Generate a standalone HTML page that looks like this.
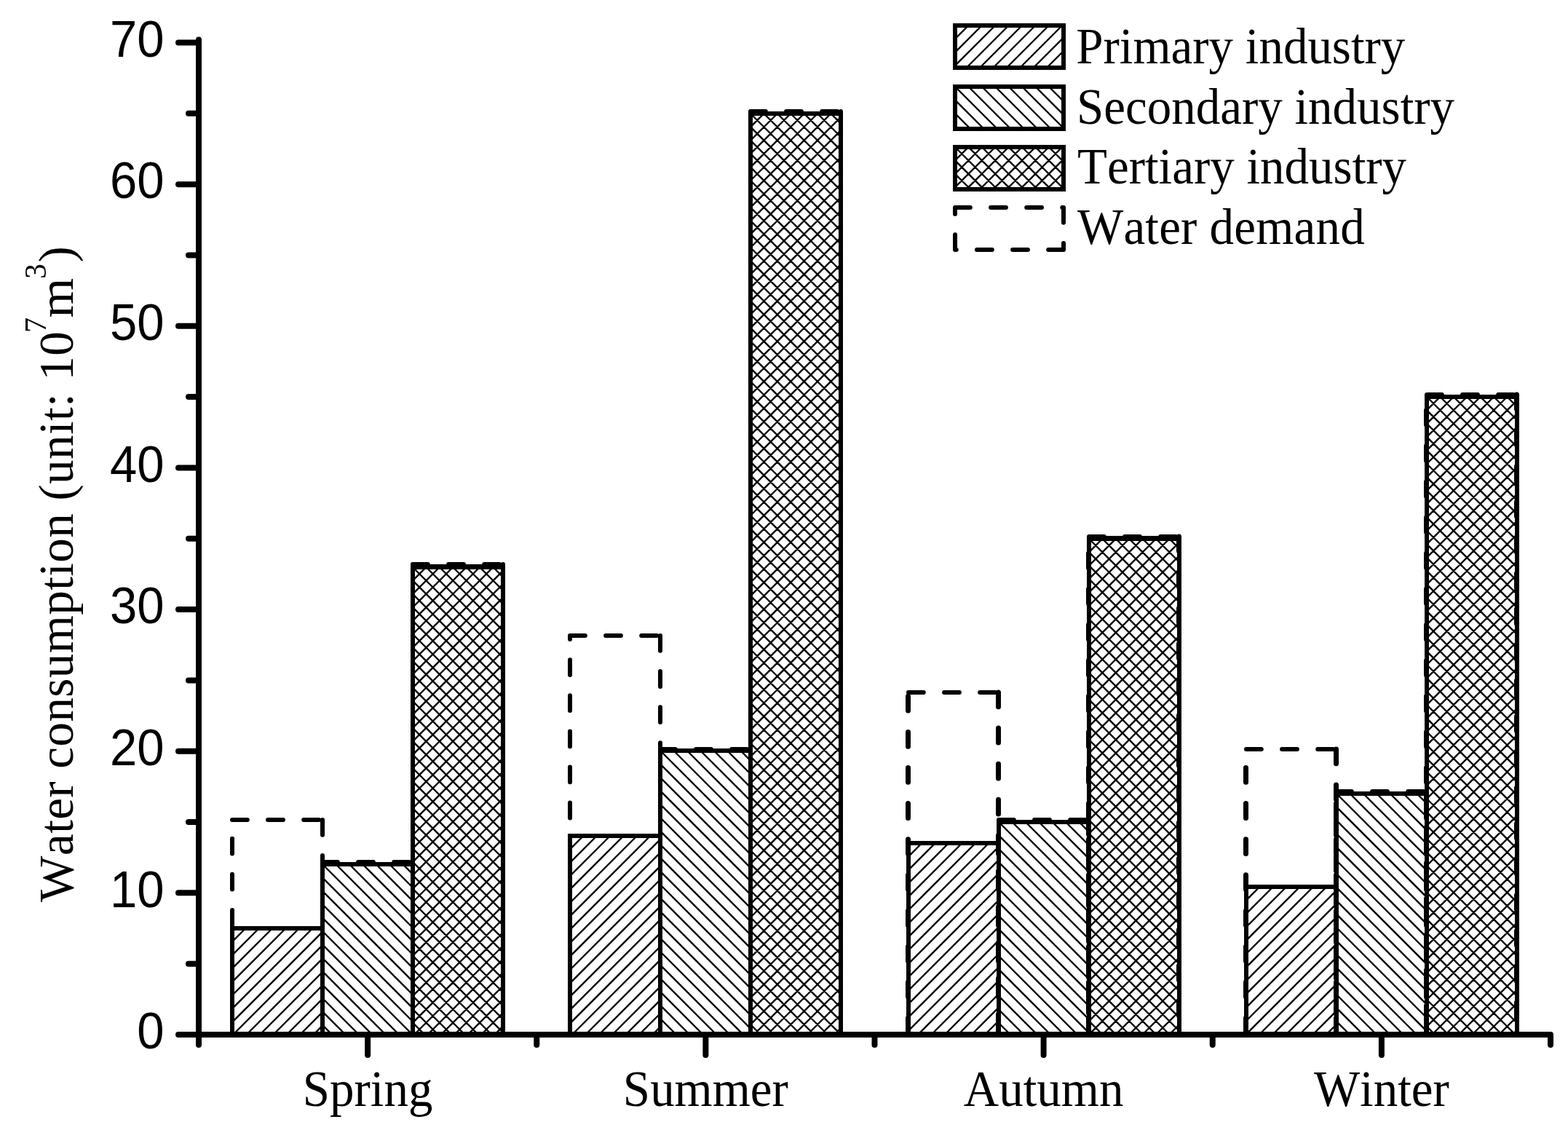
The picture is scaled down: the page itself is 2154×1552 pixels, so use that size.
<!DOCTYPE html>
<html lang="en"><head><meta charset="utf-8"><title>Water consumption by season</title>
<style>html,body{margin:0;padding:0;background:#fff}body{width:2154px;height:1552px;overflow:hidden}svg{display:block}text{fill:#000;font-kerning:none}.s{font-family:'Liberation Serif', serif;font-size:67px}.n{font-family:'Liberation Sans', sans-serif;font-size:67px}.h{stroke:#000;stroke-width:2.4;fill:none}.b{stroke:#000;stroke-width:6;fill:none}.d{stroke:#000;stroke-width:6;fill:none;stroke-linecap:round;stroke-dasharray:20.8 28.3}.w{stroke-width:7;stroke-dasharray:19.8 29.3}.a{stroke:#000;stroke-width:8;stroke-linecap:round;fill:none}</style></head><body>
<svg width="2154" height="1552" viewBox="0 0 2154 1552">
<rect width="2154" height="1552" fill="#fff"/>
<g id="bars">
<path class="h" d="M319 1293.4L337.4 1275M319 1311.8L355.8 1275M319 1330.2L374.2 1275M319 1348.6L392.6 1275M319 1367L411 1275M319 1385.4L429.4 1275M319 1403.8L443 1279.8M320.2 1421L443 1298.2M338.6 1421L443 1316.6M357 1421L443 1335M375.4 1421L443 1353.4M393.8 1421L443 1371.8M412.2 1421L443 1390.2M430.6 1421L443 1408.6"/>
<rect class="b" x="319" y="1275" width="124" height="146"/>
<path class="h" d="M443 1407.8L456.2 1421M443 1389.4L474.6 1421M443 1371L493 1421M443 1352.6L511.4 1421M443 1334.2L529.8 1421M443 1315.8L548.2 1421M443 1297.4L566.6 1421M443 1279L567 1403M443 1260.6L567 1384.6M443 1242.2L567 1366.2M443 1223.8L567 1347.8M443 1205.4L567 1329.4M443 1187L567 1311M461.4 1187L567 1292.6M479.8 1187L567 1274.2M498.2 1187L567 1255.8M516.6 1187L567 1237.4M535 1187L567 1219M553.4 1187L567 1200.6"/>
<rect class="b" x="443" y="1187" width="124" height="234"/>
<path class="h" d="M567 797.4L585.4 779M567 815.8L603.8 779M567 834.2L622.2 779M567 852.6L640.6 779M567 871L659 779M567 889.4L677.4 779M567 907.8L691 783.8M567 926.2L691 802.2M567 944.6L691 820.6M567 963L691 839M567 981.4L691 857.4M567 999.8L691 875.8M567 1018.2L691 894.2M567 1036.6L691 912.6M567 1055L691 931M567 1073.4L691 949.4M567 1091.8L691 967.8M567 1110.2L691 986.2M567 1128.6L691 1004.6M567 1147L691 1023M567 1165.4L691 1041.4M567 1183.8L691 1059.8M567 1202.2L691 1078.2M567 1220.6L691 1096.6M567 1239L691 1115M567 1257.4L691 1133.4M567 1275.8L691 1151.8M567 1294.2L691 1170.2M567 1312.6L691 1188.6M567 1331L691 1207M567 1349.4L691 1225.4M567 1367.8L691 1243.8M567 1386.2L691 1262.2M567 1404.6L691 1280.6M569 1421L691 1299M587.4 1421L691 1317.4M605.8 1421L691 1335.8M624.2 1421L691 1354.2M642.6 1421L691 1372.6M661 1421L691 1391M679.4 1421L691 1409.4M567 1404.6L583.4 1421M567 1386.2L601.8 1421M567 1367.8L620.2 1421M567 1349.4L638.6 1421M567 1331L657 1421M567 1312.6L675.4 1421M567 1294.2L691 1418.2M567 1275.8L691 1399.8M567 1257.4L691 1381.4M567 1239L691 1363M567 1220.6L691 1344.6M567 1202.2L691 1326.2M567 1183.8L691 1307.8M567 1165.4L691 1289.4M567 1147L691 1271M567 1128.6L691 1252.6M567 1110.2L691 1234.2M567 1091.8L691 1215.8M567 1073.4L691 1197.4M567 1055L691 1179M567 1036.6L691 1160.6M567 1018.2L691 1142.2M567 999.8L691 1123.8M567 981.4L691 1105.4M567 963L691 1087M567 944.6L691 1068.6M567 926.2L691 1050.2M567 907.8L691 1031.8M567 889.4L691 1013.4M567 871L691 995M567 852.6L691 976.6M567 834.2L691 958.2M567 815.8L691 939.8M567 797.4L691 921.4M567 779L691 903M585.4 779L691 884.6M603.8 779L691 866.2M622.2 779L691 847.8M640.6 779L691 829.4M659 779L691 811M677.4 779L691 792.6"/>
<rect class="b" x="567" y="779" width="124" height="642"/>
<path d="M564 775.5H694" stroke="#000" stroke-width="1" fill="none"/>
<path class="h" d="M783 1166.4L801.4 1148M783 1184.8L819.8 1148M783 1203.2L838.2 1148M783 1221.6L856.6 1148M783 1240L875 1148M783 1258.4L893.4 1148M783 1276.8L907 1152.8M783 1295.2L907 1171.2M783 1313.6L907 1189.6M783 1332L907 1208M783 1350.4L907 1226.4M783 1368.8L907 1244.8M783 1387.2L907 1263.2M783 1405.6L907 1281.6M786 1421L907 1300M804.4 1421L907 1318.4M822.8 1421L907 1336.8M841.2 1421L907 1355.2M859.6 1421L907 1373.6M878 1421L907 1392M896.4 1421L907 1410.4"/>
<rect class="b" x="783" y="1148" width="124" height="273"/>
<path class="h" d="M907 1417.4L910.6 1421M907 1399L929 1421M907 1380.6L947.4 1421M907 1362.2L965.8 1421M907 1343.8L984.2 1421M907 1325.4L1002.6 1421M907 1307L1021 1421M907 1288.6L1031 1412.6M907 1270.2L1031 1394.2M907 1251.8L1031 1375.8M907 1233.4L1031 1357.4M907 1215L1031 1339M907 1196.6L1031 1320.6M907 1178.2L1031 1302.2M907 1159.8L1031 1283.8M907 1141.4L1031 1265.4M907 1123L1031 1247M907 1104.6L1031 1228.6M907 1086.2L1031 1210.2M907 1067.8L1031 1191.8M907 1049.4L1031 1173.4M907 1031L1031 1155M925.4 1031L1031 1136.6M943.8 1031L1031 1118.2M962.2 1031L1031 1099.8M980.6 1031L1031 1081.4M999 1031L1031 1063M1017.4 1031L1031 1044.6"/>
<rect class="b" x="907" y="1031" width="124" height="390"/>
<path class="h" d="M1031 174.4L1049.4 156M1031 192.8L1067.8 156M1031 211.2L1086.2 156M1031 229.6L1104.6 156M1031 248L1123 156M1031 266.4L1141.4 156M1031 284.8L1155 160.8M1031 303.2L1155 179.2M1031 321.6L1155 197.6M1031 340L1155 216M1031 358.4L1155 234.4M1031 376.8L1155 252.8M1031 395.2L1155 271.2M1031 413.6L1155 289.6M1031 432L1155 308M1031 450.4L1155 326.4M1031 468.8L1155 344.8M1031 487.2L1155 363.2M1031 505.6L1155 381.6M1031 524L1155 400M1031 542.4L1155 418.4M1031 560.8L1155 436.8M1031 579.2L1155 455.2M1031 597.6L1155 473.6M1031 616L1155 492M1031 634.4L1155 510.4M1031 652.8L1155 528.8M1031 671.2L1155 547.2M1031 689.6L1155 565.6M1031 708L1155 584M1031 726.4L1155 602.4M1031 744.8L1155 620.8M1031 763.2L1155 639.2M1031 781.6L1155 657.6M1031 800L1155 676M1031 818.4L1155 694.4M1031 836.8L1155 712.8M1031 855.2L1155 731.2M1031 873.6L1155 749.6M1031 892L1155 768M1031 910.4L1155 786.4M1031 928.8L1155 804.8M1031 947.2L1155 823.2M1031 965.6L1155 841.6M1031 984L1155 860M1031 1002.4L1155 878.4M1031 1020.8L1155 896.8M1031 1039.2L1155 915.2M1031 1057.6L1155 933.6M1031 1076L1155 952M1031 1094.4L1155 970.4M1031 1112.8L1155 988.8M1031 1131.2L1155 1007.2M1031 1149.6L1155 1025.6M1031 1168L1155 1044M1031 1186.4L1155 1062.4M1031 1204.8L1155 1080.8M1031 1223.2L1155 1099.2M1031 1241.6L1155 1117.6M1031 1260L1155 1136M1031 1278.4L1155 1154.4M1031 1296.8L1155 1172.8M1031 1315.2L1155 1191.2M1031 1333.6L1155 1209.6M1031 1352L1155 1228M1031 1370.4L1155 1246.4M1031 1388.8L1155 1264.8M1031 1407.2L1155 1283.2M1035.6 1421L1155 1301.6M1054 1421L1155 1320M1072.4 1421L1155 1338.4M1090.8 1421L1155 1356.8M1109.2 1421L1155 1375.2M1127.6 1421L1155 1393.6M1146 1421L1155 1412M1031 1407.2L1044.8 1421M1031 1388.8L1063.2 1421M1031 1370.4L1081.6 1421M1031 1352L1100 1421M1031 1333.6L1118.4 1421M1031 1315.2L1136.8 1421M1031 1296.8L1155 1420.8M1031 1278.4L1155 1402.4M1031 1260L1155 1384M1031 1241.6L1155 1365.6M1031 1223.2L1155 1347.2M1031 1204.8L1155 1328.8M1031 1186.4L1155 1310.4M1031 1168L1155 1292M1031 1149.6L1155 1273.6M1031 1131.2L1155 1255.2M1031 1112.8L1155 1236.8M1031 1094.4L1155 1218.4M1031 1076L1155 1200M1031 1057.6L1155 1181.6M1031 1039.2L1155 1163.2M1031 1020.8L1155 1144.8M1031 1002.4L1155 1126.4M1031 984L1155 1108M1031 965.6L1155 1089.6M1031 947.2L1155 1071.2M1031 928.8L1155 1052.8M1031 910.4L1155 1034.4M1031 892L1155 1016M1031 873.6L1155 997.6M1031 855.2L1155 979.2M1031 836.8L1155 960.8M1031 818.4L1155 942.4M1031 800L1155 924M1031 781.6L1155 905.6M1031 763.2L1155 887.2M1031 744.8L1155 868.8M1031 726.4L1155 850.4M1031 708L1155 832M1031 689.6L1155 813.6M1031 671.2L1155 795.2M1031 652.8L1155 776.8M1031 634.4L1155 758.4M1031 616L1155 740M1031 597.6L1155 721.6M1031 579.2L1155 703.2M1031 560.8L1155 684.8M1031 542.4L1155 666.4M1031 524L1155 648M1031 505.6L1155 629.6M1031 487.2L1155 611.2M1031 468.8L1155 592.8M1031 450.4L1155 574.4M1031 432L1155 556M1031 413.6L1155 537.6M1031 395.2L1155 519.2M1031 376.8L1155 500.8M1031 358.4L1155 482.4M1031 340L1155 464M1031 321.6L1155 445.6M1031 303.2L1155 427.2M1031 284.8L1155 408.8M1031 266.4L1155 390.4M1031 248L1155 372M1031 229.6L1155 353.6M1031 211.2L1155 335.2M1031 192.8L1155 316.8M1031 174.4L1155 298.4M1031 156L1155 280M1049.4 156L1155 261.6M1067.8 156L1155 243.2M1086.2 156L1155 224.8M1104.6 156L1155 206.4M1123 156L1155 188M1141.4 156L1155 169.6"/>
<rect class="b" x="1031" y="156" width="124" height="1265"/>
<path class="h" d="M1248 1176.4L1266.4 1158M1248 1194.8L1284.8 1158M1248 1213.2L1303.2 1158M1248 1231.6L1321.6 1158M1248 1250L1340 1158M1248 1268.4L1358.4 1158M1248 1286.8L1372 1162.8M1248 1305.2L1372 1181.2M1248 1323.6L1372 1199.6M1248 1342L1372 1218M1248 1360.4L1372 1236.4M1248 1378.8L1372 1254.8M1248 1397.2L1372 1273.2M1248 1415.6L1372 1291.6M1261 1421L1372 1310M1279.4 1421L1372 1328.4M1297.8 1421L1372 1346.8M1316.2 1421L1372 1365.2M1334.6 1421L1372 1383.6M1353 1421L1372 1402M1371.4 1421L1372 1420.4"/>
<rect class="b" x="1248" y="1158" width="124" height="263"/>
<path class="h" d="M1372 1405L1388 1421M1372 1386.6L1406.4 1421M1372 1368.2L1424.8 1421M1372 1349.8L1443.2 1421M1372 1331.4L1461.6 1421M1372 1313L1480 1421M1372 1294.6L1496 1418.6M1372 1276.2L1496 1400.2M1372 1257.8L1496 1381.8M1372 1239.4L1496 1363.4M1372 1221L1496 1345M1372 1202.6L1496 1326.6M1372 1184.2L1496 1308.2M1372 1165.8L1496 1289.8M1372 1147.4L1496 1271.4M1372 1129L1496 1253M1390.4 1129L1496 1234.6M1408.8 1129L1496 1216.2M1427.2 1129L1496 1197.8M1445.6 1129L1496 1179.4M1464 1129L1496 1161M1482.4 1129L1496 1142.6"/>
<rect class="b" x="1372" y="1129" width="124" height="292"/>
<path class="h" d="M1496 758.4L1514.4 740M1496 776.8L1532.8 740M1496 795.2L1551.2 740M1496 813.6L1569.6 740M1496 832L1588 740M1496 850.4L1606.4 740M1496 868.8L1620 744.8M1496 887.2L1620 763.2M1496 905.6L1620 781.6M1496 924L1620 800M1496 942.4L1620 818.4M1496 960.8L1620 836.8M1496 979.2L1620 855.2M1496 997.6L1620 873.6M1496 1016L1620 892M1496 1034.4L1620 910.4M1496 1052.8L1620 928.8M1496 1071.2L1620 947.2M1496 1089.6L1620 965.6M1496 1108L1620 984M1496 1126.4L1620 1002.4M1496 1144.8L1620 1020.8M1496 1163.2L1620 1039.2M1496 1181.6L1620 1057.6M1496 1200L1620 1076M1496 1218.4L1620 1094.4M1496 1236.8L1620 1112.8M1496 1255.2L1620 1131.2M1496 1273.6L1620 1149.6M1496 1292L1620 1168M1496 1310.4L1620 1186.4M1496 1328.8L1620 1204.8M1496 1347.2L1620 1223.2M1496 1365.6L1620 1241.6M1496 1384L1620 1260M1496 1402.4L1620 1278.4M1496 1420.8L1620 1296.8M1514.2 1421L1620 1315.2M1532.6 1421L1620 1333.6M1551 1421L1620 1352M1569.4 1421L1620 1370.4M1587.8 1421L1620 1388.8M1606.2 1421L1620 1407.2M1496 1420.8L1496.2 1421M1496 1402.4L1514.6 1421M1496 1384L1533 1421M1496 1365.6L1551.4 1421M1496 1347.2L1569.8 1421M1496 1328.8L1588.2 1421M1496 1310.4L1606.6 1421M1496 1292L1620 1416M1496 1273.6L1620 1397.6M1496 1255.2L1620 1379.2M1496 1236.8L1620 1360.8M1496 1218.4L1620 1342.4M1496 1200L1620 1324M1496 1181.6L1620 1305.6M1496 1163.2L1620 1287.2M1496 1144.8L1620 1268.8M1496 1126.4L1620 1250.4M1496 1108L1620 1232M1496 1089.6L1620 1213.6M1496 1071.2L1620 1195.2M1496 1052.8L1620 1176.8M1496 1034.4L1620 1158.4M1496 1016L1620 1140M1496 997.6L1620 1121.6M1496 979.2L1620 1103.2M1496 960.8L1620 1084.8M1496 942.4L1620 1066.4M1496 924L1620 1048M1496 905.6L1620 1029.6M1496 887.2L1620 1011.2M1496 868.8L1620 992.8M1496 850.4L1620 974.4M1496 832L1620 956M1496 813.6L1620 937.6M1496 795.2L1620 919.2M1496 776.8L1620 900.8M1496 758.4L1620 882.4M1496 740L1620 864M1514.4 740L1620 845.6M1532.8 740L1620 827.2M1551.2 740L1620 808.8M1569.6 740L1620 790.4M1588 740L1620 772M1606.4 740L1620 753.6"/>
<rect class="b" x="1496" y="740" width="124" height="681"/>
<path d="M1493 736.5H1623" stroke="#000" stroke-width="1" fill="none"/>
<path class="h" d="M1712 1236.4L1730.4 1218M1712 1254.8L1748.8 1218M1712 1273.2L1767.2 1218M1712 1291.6L1785.6 1218M1712 1310L1804 1218M1712 1328.4L1822.4 1218M1712 1346.8L1836 1222.8M1712 1365.2L1836 1241.2M1712 1383.6L1836 1259.6M1712 1402L1836 1278M1712 1420.4L1836 1296.4M1729.8 1421L1836 1314.8M1748.2 1421L1836 1333.2M1766.6 1421L1836 1351.6M1785 1421L1836 1370M1803.4 1421L1836 1388.4M1821.8 1421L1836 1406.8"/>
<rect class="b" x="1712" y="1218" width="124" height="203"/>
<path class="h" d="M1836 1402.8L1854.2 1421M1836 1384.4L1872.6 1421M1836 1366L1891 1421M1836 1347.6L1909.4 1421M1836 1329.2L1927.8 1421M1836 1310.8L1946.2 1421M1836 1292.4L1960 1416.4M1836 1274L1960 1398M1836 1255.6L1960 1379.6M1836 1237.2L1960 1361.2M1836 1218.8L1960 1342.8M1836 1200.4L1960 1324.4M1836 1182L1960 1306M1836 1163.6L1960 1287.6M1836 1145.2L1960 1269.2M1836 1126.8L1960 1250.8M1836 1108.4L1960 1232.4M1836 1090L1960 1214M1854.4 1090L1960 1195.6M1872.8 1090L1960 1177.2M1891.2 1090L1960 1158.8M1909.6 1090L1960 1140.4M1928 1090L1960 1122M1946.4 1090L1960 1103.6"/>
<rect class="b" x="1836" y="1090" width="124" height="331"/>
<path class="h" d="M1960 563.4L1978.4 545M1960 581.8L1996.8 545M1960 600.2L2015.2 545M1960 618.6L2033.6 545M1960 637L2052 545M1960 655.4L2070.4 545M1960 673.8L2084 549.8M1960 692.2L2084 568.2M1960 710.6L2084 586.6M1960 729L2084 605M1960 747.4L2084 623.4M1960 765.8L2084 641.8M1960 784.2L2084 660.2M1960 802.6L2084 678.6M1960 821L2084 697M1960 839.4L2084 715.4M1960 857.8L2084 733.8M1960 876.2L2084 752.2M1960 894.6L2084 770.6M1960 913L2084 789M1960 931.4L2084 807.4M1960 949.8L2084 825.8M1960 968.2L2084 844.2M1960 986.6L2084 862.6M1960 1005L2084 881M1960 1023.4L2084 899.4M1960 1041.8L2084 917.8M1960 1060.2L2084 936.2M1960 1078.6L2084 954.6M1960 1097L2084 973M1960 1115.4L2084 991.4M1960 1133.8L2084 1009.8M1960 1152.2L2084 1028.2M1960 1170.6L2084 1046.6M1960 1189L2084 1065M1960 1207.4L2084 1083.4M1960 1225.8L2084 1101.8M1960 1244.2L2084 1120.2M1960 1262.6L2084 1138.6M1960 1281L2084 1157M1960 1299.4L2084 1175.4M1960 1317.8L2084 1193.8M1960 1336.2L2084 1212.2M1960 1354.6L2084 1230.6M1960 1373L2084 1249M1960 1391.4L2084 1267.4M1960 1409.8L2084 1285.8M1967.2 1421L2084 1304.2M1985.6 1421L2084 1322.6M2004 1421L2084 1341M2022.4 1421L2084 1359.4M2040.8 1421L2084 1377.8M2059.2 1421L2084 1396.2M2077.6 1421L2084 1414.6M1960 1409.8L1971.2 1421M1960 1391.4L1989.6 1421M1960 1373L2008 1421M1960 1354.6L2026.4 1421M1960 1336.2L2044.8 1421M1960 1317.8L2063.2 1421M1960 1299.4L2081.6 1421M1960 1281L2084 1405M1960 1262.6L2084 1386.6M1960 1244.2L2084 1368.2M1960 1225.8L2084 1349.8M1960 1207.4L2084 1331.4M1960 1189L2084 1313M1960 1170.6L2084 1294.6M1960 1152.2L2084 1276.2M1960 1133.8L2084 1257.8M1960 1115.4L2084 1239.4M1960 1097L2084 1221M1960 1078.6L2084 1202.6M1960 1060.2L2084 1184.2M1960 1041.8L2084 1165.8M1960 1023.4L2084 1147.4M1960 1005L2084 1129M1960 986.6L2084 1110.6M1960 968.2L2084 1092.2M1960 949.8L2084 1073.8M1960 931.4L2084 1055.4M1960 913L2084 1037M1960 894.6L2084 1018.6M1960 876.2L2084 1000.2M1960 857.8L2084 981.8M1960 839.4L2084 963.4M1960 821L2084 945M1960 802.6L2084 926.6M1960 784.2L2084 908.2M1960 765.8L2084 889.8M1960 747.4L2084 871.4M1960 729L2084 853M1960 710.6L2084 834.6M1960 692.2L2084 816.2M1960 673.8L2084 797.8M1960 655.4L2084 779.4M1960 637L2084 761M1960 618.6L2084 742.6M1960 600.2L2084 724.2M1960 581.8L2084 705.8M1960 563.4L2084 687.4M1960 545L2084 669M1978.4 545L2084 650.6M1996.8 545L2084 632.2M2015.2 545L2084 613.8M2033.6 545L2084 595.4M2052 545L2084 577M2070.4 545L2084 558.6"/>
<rect class="b" x="1960" y="545" width="124" height="876"/>
</g>
<g id="demand">
<path class="d" d="M319 1126H443M443 1126V1418M319 1418V1126"/>
<path class="d" d="M443 1184H567M567 1184V1418M443 1418V1184"/>
<path class="d" d="M567 775H691M691 775V1418M567 1418V775"/>
<path class="d" d="M783 873H907M907 873V1418M783 1418V873"/>
<path class="d" d="M907 1029H1031M1031 1029V1418M907 1418V1029"/>
<path class="d" d="M1031 153H1155M1155 153V1418M1031 1418V153"/>
<path class="d" d="M1248 951H1372"/><path class="d w" d="M1371.5 951V1418M1247.5 1418V951"/>
<path class="d" d="M1372 1126H1496"/><path class="d w" d="M1495.5 1126V1418M1371.5 1418V1126"/>
<path class="d" d="M1496 737H1620"/><path class="d w" d="M1619.5 737V1418M1495.5 1418V737"/>
<path class="d" d="M1712 1029H1836"/><path class="d w" d="M1835.5 1029V1418M1711.5 1418V1029"/>
<path class="d" d="M1836 1087H1960"/><path class="d w" d="M1959.5 1087V1418M1835.5 1418V1087"/>
<path class="d" d="M1960 542H2084"/><path class="d w" d="M2083.5 542V1418M1959.5 1418V542"/>
</g>
<g id="axes" class="a">
<path d="M273 54.5V1421M245 1421H2130M245 1421H273M259 1323.68H273M245 1226.36H273M259 1129.04H273M245 1031.71H273M259 934.39H273M245 837.07H273M259 739.75H273M245 642.43H273M259 545.11H273M245 447.79H273M259 350.46H273M245 253.14H273M259 155.82H273M245 58.5H273M273 1421V1435M505.12 1421V1449M737.25 1421V1435M969.38 1421V1449M1201.5 1421V1435M1433.62 1421V1449M1665.75 1421V1435M1897.88 1421V1449M2130 1421V1435"/>
</g>
<g class="n" text-anchor="end">
<text transform="translate(225.5 1440.3) scale(1 1.04)">0</text>
<text transform="translate(225.5 1245.66) scale(1 1.04)">10</text>
<text transform="translate(225.5 1051.01) scale(1 1.04)">20</text>
<text transform="translate(225.5 856.37) scale(1 1.04)">30</text>
<text transform="translate(225.5 661.73) scale(1 1.04)">40</text>
<text transform="translate(225.5 467.09) scale(1 1.04)">50</text>
<text transform="translate(225.5 272.44) scale(1 1.04)">60</text>
<text transform="translate(225.5 77.8) scale(1 1.04)">70</text>
</g>
<g class="s" text-anchor="middle">
<text transform="translate(505.12 1519.2) scale(1 1.045)">Spring</text>
<text transform="translate(969.38 1519.2) scale(1 1.045)">Summer</text>
<text transform="translate(1433.62 1519.2) scale(1 1.045)">Autumn</text>
<text transform="translate(1897.88 1519.2) scale(1 1.045)">Winter</text>
</g>
<g class="s" transform="translate(100 0) rotate(-90)">
<text x="-1238.7" y="0" letter-spacing="0.43">Water consumption (unit: 10</text>
<text x="-457" y="-37" font-size="42">7</text>
<text transform="translate(-436.6 0) scale(1.05 1)">m</text>
<text x="-383" y="-37" font-size="42">3</text>
<text x="-360.5" y="0">)</text>
</g>
<g id="legend">
<path class="h" d="M1312 53.4L1330.4 35M1312 71.8L1348.8 35M1312 90.2L1367.2 35M1327.6 93L1385.6 35M1346 93L1404 35M1364.4 93L1422.4 35M1382.8 93L1440.8 35M1401.2 93L1459.2 35M1419.6 93L1461 51.6M1438 93L1461 70M1456.4 93L1461 88.4"/>
<rect class="b" x="1312" y="35" width="149" height="58"/>
<path class="h" d="M1312 174.2L1314.8 177M1312 155.8L1333.2 177M1312 137.4L1351.6 177M1312 119L1370 177M1330.4 119L1388.4 177M1348.8 119L1406.8 177M1367.2 119L1425.2 177M1385.6 119L1443.6 177M1404 119L1461 176M1422.4 119L1461 157.6M1440.8 119L1461 139.2M1459.2 119L1461 120.8"/>
<rect class="b" x="1312" y="119" width="149" height="58"/>
<path class="h" d="M1312 220.4L1330.4 202M1312 238.8L1348.8 202M1312 257.2L1367.2 202M1327.6 260L1385.6 202M1346 260L1404 202M1364.4 260L1422.4 202M1382.8 260L1440.8 202M1401.2 260L1459.2 202M1419.6 260L1461 218.6M1438 260L1461 237M1456.4 260L1461 255.4M1312 257.2L1314.8 260M1312 238.8L1333.2 260M1312 220.4L1351.6 260M1312 202L1370 260M1330.4 202L1388.4 260M1348.8 202L1406.8 260M1367.2 202L1425.2 260M1385.6 202L1443.6 260M1404 202L1461 259M1422.4 202L1461 240.6M1440.8 202L1461 222.2M1459.2 202L1461 203.8"/>
<rect class="b" x="1312" y="202" width="149" height="58"/>
<path class="d" d="M1312 285H1461M1461 343H1312M1461 285V343M1312 343V285"/>
</g>
<g class="s">
<text transform="translate(1478.2 86.5) scale(1 1.045)">Primary industry</text>
<text transform="translate(1479 170.25) scale(1 1.045)">Secondary industry</text>
<text transform="translate(1480 252.25) scale(1 1.045)">Tertiary industry</text>
<text transform="translate(1480 335) scale(1 1.045)" letter-spacing="0.2">Water demand</text>
</g>
</svg></body></html>
